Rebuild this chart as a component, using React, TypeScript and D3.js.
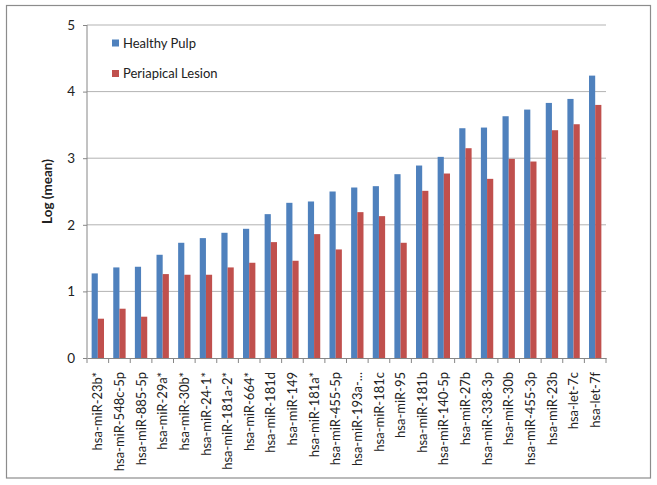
import React, { useEffect, useRef } from "react";
import * as d3 from "d3";

const categories = [
  "hsa-miR-23b*", "hsa-miR-548c-5p", "hsa-miR-885-5p", "hsa-miR-29a*", "hsa-miR-30b*",
  "hsa-miR-24-1*", "hsa-miR-181a-2*", "hsa-miR-664*", "hsa-miR-181d", "hsa-miR-149",
  "hsa-miR-181a*", "hsa-miR-455-5p", "hsa-miR-193a-...", "hsa-miR-181c", "hsa-miR-95",
  "hsa-miR-181b", "hsa-miR-140-5p", "hsa-miR-27b", "hsa-miR-338-3p", "hsa-miR-30b",
  "hsa-miR-455-3p", "hsa-miR-23b", "hsa-let-7c", "hsa-let-7f",
];

const healthyPulp = [
  1.27, 1.36, 1.37, 1.55, 1.73, 1.80, 1.88, 1.94, 2.16, 2.33, 2.35, 2.50,
  2.56, 2.58, 2.76, 2.89, 3.02, 3.45, 3.46, 3.63, 3.73, 3.83, 3.89, 4.24,
];

const periapicalLesion = [
  0.59, 0.74, 0.62, 1.26, 1.25, 1.25, 1.36, 1.43, 1.74, 1.46, 1.86, 1.63,
  2.19, 2.13, 1.73, 2.51, 2.77, 3.15, 2.69, 2.99, 2.95, 3.42, 3.51, 3.80,
];

const yTicks = [0, 1, 2, 3, 4, 5];

const seriesNames = ["Healthy Pulp", "Periapical Lesion"];
const seriesColors = ["#4f81bd", "#c0504d"];

const FONT = "Lato, 'Open Sans', sans-serif";

const App = () => {
  const svgRef = useRef<SVGSVGElement>(null);

  useEffect(() => {
    const width = 657;
    const height = 485;
    const svg = d3.select(svgRef.current);
    svg.selectAll("*").remove();

    // plot area
    const margin = { top: 25, right: 51, bottom: 127, left: 87 };

    // outer chart frame
    svg.append("rect")
      .attr("x", 6.5)
      .attr("y", 5.5)
      .attr("width", 644)
      .attr("height", 472.5)
      .attr("fill", "#fff")
      .attr("stroke", "#8c8c8c")
      .attr("stroke-width", 1.2);

    const x = d3.scaleBand<string>()
      .domain(categories)
      .range([margin.left, width - margin.right]);

    const y = d3.scaleLinear()
      .domain([0, 5])
      .range([height - margin.bottom, margin.top]);

    // gridlines
    svg.append("g")
      .selectAll("line")
      .data(yTicks.filter(d => d > 0))
      .join("line")
      .attr("x1", margin.left)
      .attr("x2", width - margin.right)
      .attr("y1", d => y(d))
      .attr("y2", d => y(d))
      .attr("stroke", "#b3b3b3")
      .attr("stroke-width", 1);

    // bars: Excel style, gap width 150%
    const barW = x.bandwidth() / 3.5;
    const seriesData = [healthyPulp, periapicalLesion];
    seriesData.forEach((vals, s) => {
      svg.append("g")
        .selectAll("rect")
        .data(vals)
        .join("rect")
        .attr("x", (d, i) => (x(categories[i]) as number) + barW * 0.75 + s * barW)
        .attr("y", d => y(d))
        .attr("width", barW)
        .attr("height", d => y(0) - y(d))
        .attr("fill", seriesColors[s]);
    });

    // y axis
    const yAxis = svg.append("g")
      .attr("transform", `translate(${margin.left},0)`)
      .call(d3.axisLeft(y).tickValues(yTicks).tickFormat(d3.format("d")).tickSize(4).tickPadding(8));
    yAxis.select(".domain").attr("stroke", "#868686").attr("d", `M0,${y(5)}V${y(0)}`);
    yAxis.selectAll(".tick line").attr("stroke", "#868686");
    yAxis.selectAll(".tick text")
      .attr("font-family", FONT)
      .attr("font-size", 13.5)
      .attr("fill", "#222");

    // x axis
    const xAxis = svg.append("g")
      .attr("transform", `translate(0,${y(0)})`)
      .call(d3.axisBottom(x).tickSize(0).tickPadding(0));
    xAxis.select(".domain").attr("stroke", "#868686");
    // tick marks at band boundaries
    xAxis.append("g")
      .selectAll("line")
      .data(d3.range(categories.length + 1))
      .join("line")
      .attr("x1", i => margin.left + i * x.step())
      .attr("x2", i => margin.left + i * x.step())
      .attr("y1", 0)
      .attr("y2", 5)
      .attr("stroke", "#868686");
    xAxis.selectAll(".tick text")
      .attr("font-family", FONT)
      .attr("font-size", 13)
      .attr("fill", "#222")
      .attr("text-anchor", "end")
      .attr("dy", "0.35em")
      .attr("transform", "translate(0,14) rotate(-90)");

    // y axis title
    svg.append("text")
      .attr("transform", `translate(47,${(y(0) + y(5)) / 2}) rotate(-90)`)
      .attr("text-anchor", "middle")
      .attr("dy", "0.35em")
      .attr("font-family", FONT)
      .attr("font-size", 13.5)
      .attr("font-weight", "bold")
      .attr("fill", "#222")
      .text("Log (mean)");

    // legend
    const legend = svg.append("g")
      .selectAll("g")
      .data(seriesNames)
      .join("g")
      .attr("transform", (d, i) => `translate(112,${43 + i * 30.5})`);
    legend.append("rect")
      .attr("x", 0)
      .attr("y", -3.5)
      .attr("width", 7)
      .attr("height", 7)
      .attr("fill", (d, i) => seriesColors[i]);
    legend.append("text")
      .attr("x", 11)
      .attr("dy", "0.35em")
      .attr("font-family", FONT)
      .attr("font-size", 13)
      .attr("fill", "#222")
      .text(d => d);
  }, []);

  return (
    <svg
      ref={svgRef}
      width={657}
      height={485}
      style={{ position: "absolute", left: 0, top: 0, background: "#fff" }}
    />
  );
};

export default App;
